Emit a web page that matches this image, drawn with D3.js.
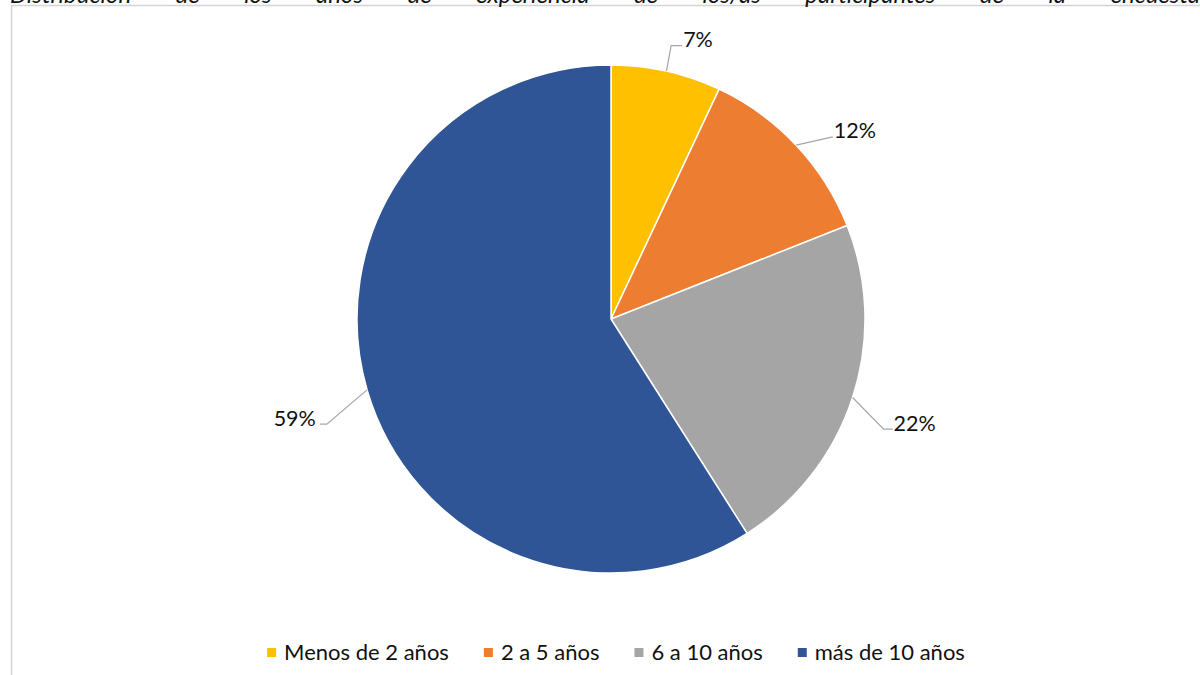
<!DOCTYPE html>
<html lang="es">
<head>
<meta charset="utf-8">
<script src="https://cdn.jsdelivr.net/npm/d3@7"></script>
<style>
  html, body { margin: 0; padding: 0; background: #ffffff; }
  svg { display: block; }
  text { font-family: Lato, "Noto Sans", sans-serif; fill: #111111; }
</style>
</head>
<body>
<svg id="chart" width="1200" height="675"></svg>
<script>
// Experience distribution of survey participants
const categories = ["Menos de 2 años", "2 a 5 años", "6 a 10 años", "más de 10 años"];
const shares = [7, 12, 22, 59];
const valueLabels = ["7%", "12%", "22%", "59%"];
const colors = ["#FFC000", "#ED7D31", "#A5A5A5", "#2F5597"];
const titleText = "Distribución de los años de experiencia de los/as participantes de la encuesta";

// Leader-line layout for each data label: elbow radius, angular shift (deg), horizontal tail
const labelRadius = [280, 287, 294, 303];
const labelShift = [-0.2, 3.8, 4.0, -4.1];
const labelTail = [11, 0, 9, 7];

const W = 1200, H = 675;
const cx = 611, cy = 319, R = 254;

const svg = d3.select("#chart");

// Chart area frame (left and top edges visible)
svg.append("path")
  .attr("d", `M11.5,${H} L11.5,5.5 L${W},5.5`)
  .attr("fill", "none")
  .attr("stroke", "#d4d4d4")
  .attr("stroke-width", 1.5);

// Caption above the frame, justified across the width
const title = svg.append("g").attr("class", "title");
const words = titleText.split(" ");
const wordNodes = words.map(w => title.append("text")
  .attr("y", 3)
  .attr("font-size", 24)
  .attr("font-style", "italic")
  .text(w));
const widths = wordNodes.map(n => n.node().getComputedTextLength());
const spanStart = 10, spanEnd = 1200;
const gap = (spanEnd - spanStart - d3.sum(widths)) / (words.length - 1);
let xPos = spanStart;
wordNodes.forEach((n, i) => { n.attr("x", xPos); xPos += widths[i] + gap; });

// Pie
const pie = d3.pie().sort(null).value(d => d);
const arcs = pie(shares);
const arc = d3.arc().innerRadius(0).outerRadius(R);

const g = svg.append("g").attr("transform", `translate(${cx},${cy})`);
g.selectAll("path.slice")
  .data(arcs)
  .join("path")
  .attr("class", "slice")
  .attr("d", arc)
  .attr("fill", (d, i) => colors[i])
  .attr("stroke", "#ffffff")
  .attr("stroke-width", 1.5);

// Data labels with leader lines
const polar = (r, a) => [r * Math.sin(a), -r * Math.cos(a)];
arcs.forEach((d, i) => {
  const mid = (d.startAngle + d.endAngle) / 2;
  const start = polar(R, mid);
  const elbow = polar(labelRadius[i], mid + labelShift[i] * Math.PI / 180);
  const right = elbow[0] >= 0;
  const end = [elbow[0] + (right ? labelTail[i] : -labelTail[i]), elbow[1]];
  g.append("polyline")
    .attr("points", [start, elbow, end].map(p => p.join(",")).join(" "))
    .attr("fill", "none")
    .attr("stroke", "#a6a6a6")
    .attr("stroke-width", 1.2);
  g.append("text")
    .attr("x", end[0] + (right ? 1 : -4))
    .attr("y", end[1] + 1.5)
    .attr("text-anchor", right ? "start" : "end")
    .attr("font-size", 21.5)
    .text(valueLabels[i]);
});

// Legend, centred under the pie
const legend = svg.append("g").attr("class", "legend");
const items = categories.map((c, i) => {
  const it = legend.append("g");
  it.append("rect").attr("width", 9).attr("height", 9).attr("y", 648).attr("fill", colors[i]);
  const t = it.append("text").attr("x", 17).attr("y", 659.5).attr("font-size", 22).text(c);
  return { it, w: 17 + t.node().getComputedTextLength() };
});
const itemGap = 35;
const total = d3.sum(items, d => d.w) + itemGap * (items.length - 1);
let lx = 616 - total / 2;
items.forEach(d => { d.it.attr("transform", `translate(${lx},0)`); lx += d.w + itemGap; });
</script>
</body>
</html>
